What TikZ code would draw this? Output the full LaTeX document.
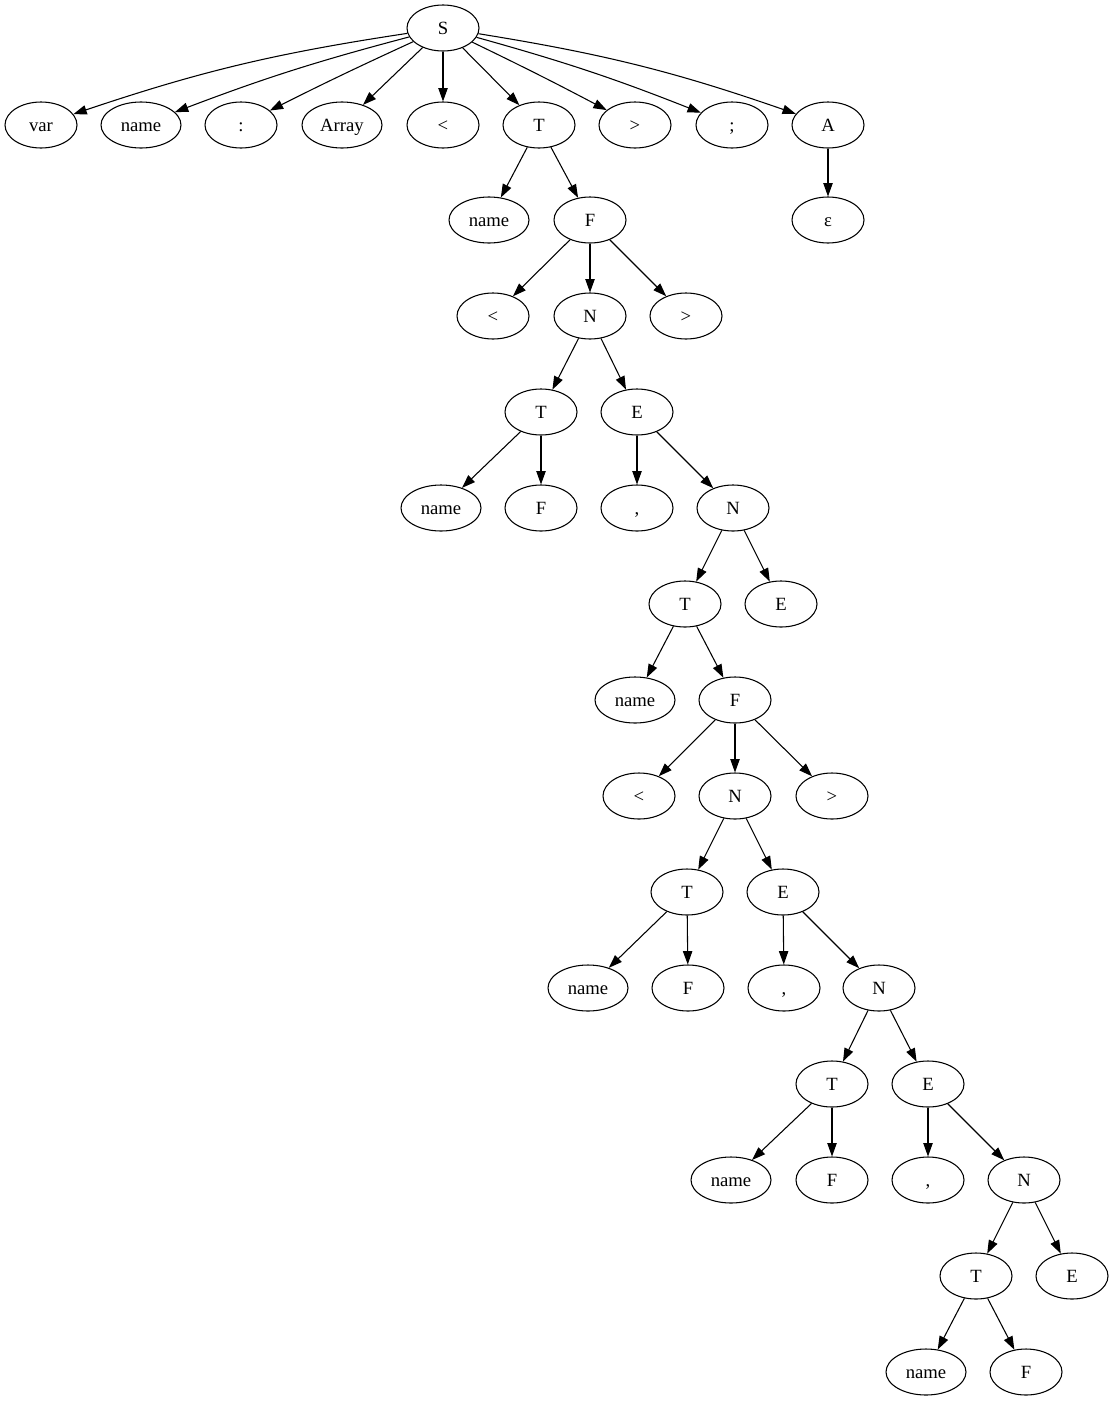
\documentclass[tikz,border=0pt]{standalone}
\usepackage{fontspec}
\setmainfont{Liberation Serif}
\usetikzlibrary{arrows.meta,shapes.geometric}
\begin{document}
\begin{tikzpicture}[x=0.75pt,y=-0.75pt,
  nd/.style={draw,ellipse,line width=0.8pt,minimum width=54pt,minimum height=34.5pt,inner sep=0pt,text height=9.6pt,text depth=0pt,font=\fontsize{14}{16}\selectfont},
  wide/.style={minimum width=60pt},
  ed/.style={line width=0.8pt,-{Triangle[length=10pt,width=7pt]}}]
\useasboundingbox (0,0) rectangle (1113,1403);
\node[nd] (S) at (443,28) {S};
\node[nd] (var) at (41,125) {var};
\node[nd,wide] (nm1) at (141,125) {name};
\node[nd] (col) at (241,125) {:};
\node[nd,wide] (arr) at (342,125) {Array};
\node[nd] (lt1) at (443,125) {<};
\node[nd] (T1) at (539,125) {T};
\node[nd] (gt1) at (635,125) {>};
\node[nd] (sc) at (732,125) {;};
\node[nd] (A) at (828,125) {A};
\node[nd] (eps) at (828,220) {ε};
\node[nd,wide] (nm2) at (489,220) {name};
\node[nd] (F1) at (590,220) {F};
\node[nd] (lt2) at (493,316) {<};
\node[nd] (N1) at (590,316) {N};
\node[nd] (gt2) at (686,316) {>};
\node[nd] (T2) at (541,412) {T};
\node[nd] (E1) at (637,412) {E};
\node[nd,wide] (nm3) at (441,508) {name};
\node[nd] (F2) at (541,508) {F};
\node[nd] (cm1) at (637,508) {,};
\node[nd] (N2) at (733,508) {N};
\node[nd] (T3) at (685,604) {T};
\node[nd] (E2) at (781,604) {E};
\node[nd,wide] (nm4) at (635,700) {name};
\node[nd] (F3) at (735,700) {F};
\node[nd] (lt3) at (639,796) {<};
\node[nd] (N3) at (735,796) {N};
\node[nd] (gt3) at (832,796) {>};
\node[nd] (T4) at (687,892) {T};
\node[nd] (E3) at (783,892) {E};
\node[nd,wide] (nm5) at (588,988) {name};
\node[nd] (F4) at (688,988) {F};
\node[nd] (cm2) at (784,988) {,};
\node[nd] (N4) at (879,988) {N};
\node[nd] (T5) at (832,1084) {T};
\node[nd] (E4) at (928,1084) {E};
\node[nd,wide] (nm6) at (731,1180) {name};
\node[nd] (F5) at (832,1180) {F};
\node[nd] (cm3) at (928,1180) {,};
\node[nd] (N5) at (1024,1180) {N};
\node[nd] (T6) at (976,1276) {T};
\node[nd] (E5) at (1072,1276) {E};
\node[nd,wide] (nm7) at (926,1372) {name};
\node[nd] (F6) at (1026,1372) {F};
\draw[ed] (S) to[bend right=5] (var);
\draw[ed] (S) to[bend right=3] (nm1);
\draw[ed] (S) to[bend right=1] (col);
\draw[ed] (S) -- (arr);
\draw[ed] (S) -- (lt1);
\draw[ed] (S) -- (T1);
\draw[ed] (S) to[bend left=1] (gt1);
\draw[ed] (S) to[bend left=3] (sc);
\draw[ed] (S) to[bend left=5] (A);
\draw[ed] (A) -- (eps);
\draw[ed] (T1) -- (nm2);
\draw[ed] (T1) -- (F1);
\draw[ed] (F1) -- (lt2);
\draw[ed] (F1) -- (N1);
\draw[ed] (F1) -- (gt2);
\draw[ed] (N1) -- (T2);
\draw[ed] (N1) -- (E1);
\draw[ed] (T2) -- (nm3);
\draw[ed] (T2) -- (F2);
\draw[ed] (E1) -- (cm1);
\draw[ed] (E1) -- (N2);
\draw[ed] (N2) -- (T3);
\draw[ed] (N2) -- (E2);
\draw[ed] (T3) -- (nm4);
\draw[ed] (T3) -- (F3);
\draw[ed] (F3) -- (lt3);
\draw[ed] (F3) -- (N3);
\draw[ed] (F3) -- (gt3);
\draw[ed] (N3) -- (T4);
\draw[ed] (N3) -- (E3);
\draw[ed] (T4) -- (nm5);
\draw[ed] (T4) -- (F4);
\draw[ed] (E3) -- (cm2);
\draw[ed] (E3) -- (N4);
\draw[ed] (N4) -- (T5);
\draw[ed] (N4) -- (E4);
\draw[ed] (T5) -- (nm6);
\draw[ed] (T5) -- (F5);
\draw[ed] (E4) -- (cm3);
\draw[ed] (E4) -- (N5);
\draw[ed] (N5) -- (T6);
\draw[ed] (N5) -- (E5);
\draw[ed] (T6) -- (nm7);
\draw[ed] (T6) -- (F6);
\end{tikzpicture}
\end{document}
